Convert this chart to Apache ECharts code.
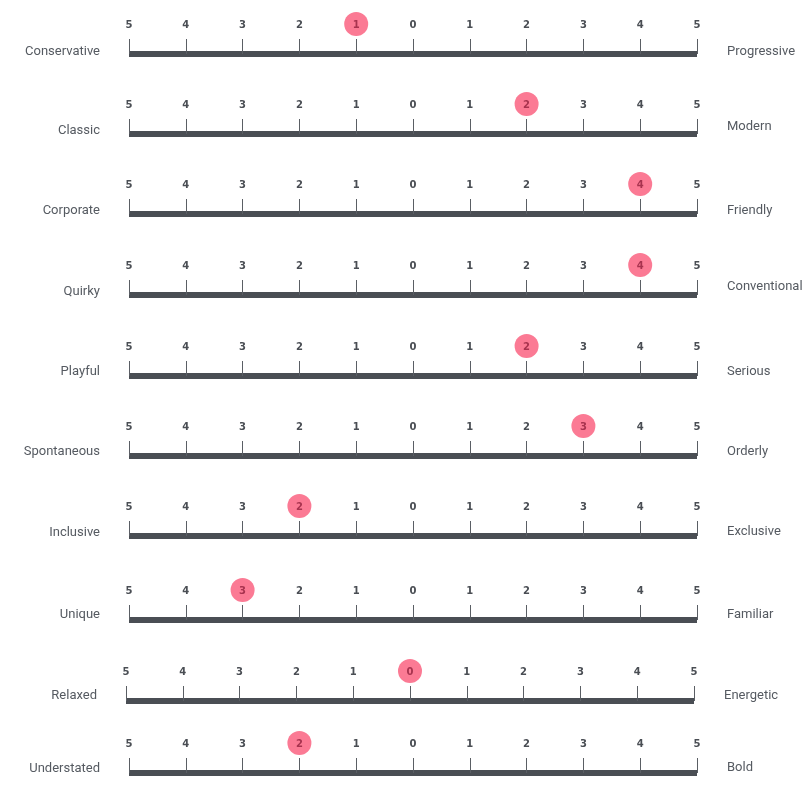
<!DOCTYPE html>
<html>
<head>
<meta charset="utf-8">
<script src="https://cdn.jsdelivr.net/npm/echarts@6/dist/echarts.min.js"></script>
<style>
  html, body { margin: 0; padding: 0; background: #fff; }
  #chart { width: 811px; height: 792px; }
</style>
</head>
<body>
<div id="chart"></div>
<script>
// data
const leftLabels = ['Conservative', 'Classic', 'Corporate', 'Quirky', 'Playful',
  'Spontaneous', 'Inclusive', 'Unique', 'Relaxed', 'Understated'];
const rightLabels = ['Progressive', 'Modern', 'Friendly', 'Conventional', 'Serious',
  'Orderly', 'Exclusive', 'Familiar', 'Energetic', 'Bold'];
// negative = towards the left word
const scores = [-1, 2, 4, 4, 2, 3, -2, -3, 0, -2];
const tickLabels = ['5', '4', '3', '2', '1', '0', '1', '2', '3', '4', '5'];

// layout (pixels)
const rowY = [54, 134, 214, 295, 376, 456, 536, 620, 701, 773];
const rowShift = [0, 0, 0, 0, 0, 0, 0, 0, -3, 0];
const leftLift = [2.5, 3, 3.5, 3.5, 4, 4, 3.5, 5, 5, 4.5];
const rightLift = [2.5, 7, 3.5, 8, 4, 4, 4, 5, 5, 5];
const axisLeft = 129, axisRight = 697, W = 811;

const dark = '#4a4e54';
const textColor = '#555a61';
const pink = '#fb7a94';

const chart = echarts.init(document.getElementById('chart'));

const grids = [], xAxes = [], yAxes = [], series = [], texts = [];

scores.forEach((s, i) => {
  const l = axisLeft + rowShift[i];
  const r = W - axisRight - rowShift[i];
  grids.push({ left: l, right: r, top: rowY[i] - 40, height: 40 });
  xAxes.push({
    gridIndex: i,
    type: 'value',
    min: -5,
    max: 5,
    interval: 1,
    position: 'bottom',
    axisLine: { show: true, lineStyle: { color: dark, width: 6, cap: 'butt' } },
    axisTick: { show: true, inside: true, length: 15, lineStyle: { color: '#5a5e64', width: 1 } },
    axisLabel: {
      inside: true,
      margin: 24,
      color: '#4a4e54',
      fontSize: 10,
      fontWeight: 'bold',
      fontFamily: 'DejaVu Sans',
      formatter: (v, idx) => tickLabels[idx]
    },
    splitLine: { show: false }
  });
  yAxes.push({ gridIndex: i, type: 'value', min: 0, max: 1, show: false });
  series.push({
    type: 'scatter',
    xAxisIndex: i,
    yAxisIndex: i,
    clip: false,
    data: [[s, 0]],
    symbol: 'circle',
    symbolSize: 24,
    symbolOffset: [0, -30],
    itemStyle: { color: pink, opacity: 1 },
    label: {
      show: true,
      position: 'inside',
      offset: [0, 1],
      formatter: p => String(Math.abs(p.value[0])),
      color: '#a8334f',
      fontSize: 10,
      fontWeight: 'bold',
      fontFamily: 'DejaVu Sans'
    },
    emphasis: { disabled: true },
    z: 5
  });
  texts.push({
    type: 'text',
    x: l - 29,
    y: rowY[i] - leftLift[i],
    style: {
      text: leftLabels[i],
      align: 'right',
      verticalAlign: 'middle',
      fill: textColor,
      font: '13px Roboto'
    }
  });
  texts.push({
    type: 'text',
    x: axisRight + rowShift[i] + 30,
    y: rowY[i] - rightLift[i],
    style: {
      text: rightLabels[i],
      align: 'left',
      verticalAlign: 'middle',
      fill: textColor,
      font: '13px Roboto'
    }
  });
});

chart.setOption({
  animation: false,
  grid: grids,
  xAxis: xAxes,
  yAxis: yAxes,
  series: series,
  graphic: texts
});
</script>
</body>
</html>
